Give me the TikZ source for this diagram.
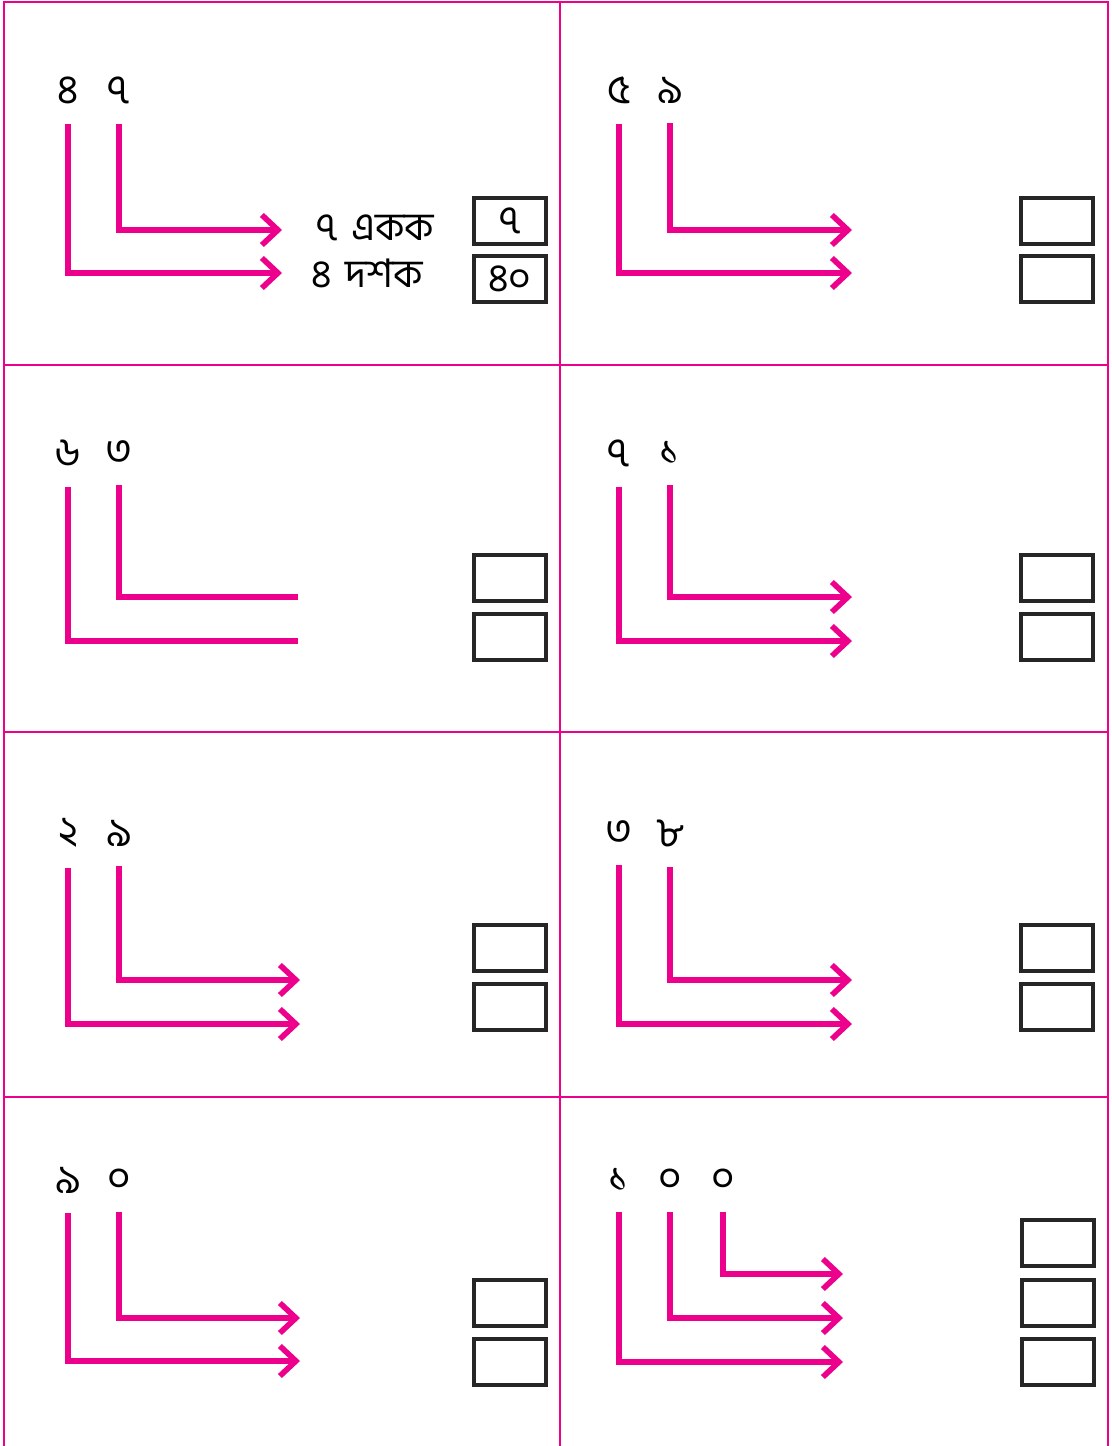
\documentclass[tikz,border=0pt]{standalone}
\usepackage{fontspec}
\newfontfamily\bnfont[Script=Bengali]{Hind Siliguri}
\usetikzlibrary{arrows.meta,positioning}
\definecolor{lmag}{RGB}{236,0,140}

\begin{document}
\begin{tikzpicture}[x=0.025cm, y=-0.025cm,
  digit/.style={inner sep=0pt, font=\bnfont\fontsize{29}{30}\selectfont},
  word/.style={inner sep=0pt, anchor=west, font=\bnfont\fontsize{28}{30}\selectfont},
  conn/.style={draw=lmag, line width=4pt, shorten <=0.5cm},
  arr/.style={conn, -{Straight Barb[length=0.4cm, width=0.75cm]}},
  answer/.style={draw=black!85, line width=2.2pt, minimum width=1.8cm, minimum height=1.15cm, inner sep=0pt, font=\bnfont\fontsize{28}{30}\selectfont},
  gridline/.style={draw=lmag, line width=1.6pt}]
\useasboundingbox (0,0) rectangle (1111,1446);

% grid
\draw[gridline] (4,1446) -- (4,2) -- (1108,2) -- (1108,1446);
\draw[gridline] (560,2) -- (560,1446);
\draw[gridline] (4,365) -- (1108,365);
\draw[gridline] (4,732) -- (1108,732);
\draw[gridline] (4,1097) -- (1108,1097);

% 47
\node[digit] (a1) at (68,90) {৪};
\node[digit] (a2) at (119,90) {৭};
\coordinate (ta1) at (282,230);
\coordinate (ta2) at (282,273);
\draw[arr] (a2.south) |- (ta1);
\draw[arr] (a1.south) |- (ta2);
\node[word] (wa1) at (316,228) {৭\hspace{0.35em}একক};
\node[word] (wa2) at (311,273) {৪\hspace{0.35em}দশক};
\node[answer] (ba1) at (510,221) {৭};
\node[answer] (ba2) at (510,279) {৪০};

% 59
\node[digit] (b1) at (619,90) {৫};
\node[digit] (b2) at (670,90) {৯};
\coordinate (tb1) at (852,230);
\coordinate (tb2) at (852,273);
\draw[arr] (b2.south) |- (tb1);
\draw[arr] (b1.south) |- (tb2);
\node[answer] (bb1) at (1057,221) {};
\node[answer] (bb2) at (1057,279) {};

% 63
\node[digit] (c1) at (68,453) {৬};
\node[digit] (c2) at (119,453) {৩};
\coordinate (tc1) at (298,597);
\coordinate (tc2) at (298,641);
\draw[conn] (c2.south) |- (tc1);
\draw[conn] (c1.south) |- (tc2);
\node[answer] (bc1) at (510,578) {};
\node[answer] (bc2) at (510,637) {};

% 71
\node[digit] (d1) at (619,453) {৭};
\node[digit] (d2) at (670,453) {১};
\coordinate (td1) at (852,597);
\coordinate (td2) at (852,641);
\draw[arr] (d2.south) |- (td1);
\draw[arr] (d1.south) |- (td2);
\node[answer] (bd1) at (1057,578) {};
\node[answer] (bd2) at (1057,637) {};

% 29
\node[digit] (e1) at (68,833) {২};
\node[digit] (e2) at (119,833) {৯};
\coordinate (te1) at (300,980);
\coordinate (te2) at (300,1024);
\draw[arr] (e2.south) |- (te1);
\draw[arr] (e1.south) |- (te2);
\node[answer] (be1) at (510,948) {};
\node[answer] (be2) at (510,1007) {};

% 38
\node[digit] (f1) at (619,833) {৩};
\node[digit] (f2) at (670,833) {৮};
\coordinate (tf1) at (852,980);
\coordinate (tf2) at (852,1024);
\draw[arr] (f2.south) |- (tf1);
\draw[arr] (f1.south) |- (tf2);
\node[answer] (bf1) at (1057,948) {};
\node[answer] (bf2) at (1057,1007) {};

% 90
\node[digit] (g1) at (68,1180) {৯};
\node[digit] (g2) at (119,1180) {০};
\coordinate (tg1) at (300,1318);
\coordinate (tg2) at (300,1361);
\draw[arr] (g2.south) |- (tg1);
\draw[arr] (g1.south) |- (tg2);
\node[answer] (bg1) at (510,1303) {};
\node[answer] (bg2) at (510,1362) {};

% 100
\node[digit] (h1) at (619,1180) {১};
\node[digit] (h2) at (670,1180) {০};
\node[digit] (h3) at (723,1180) {০};
\coordinate (th1) at (843,1274);
\coordinate (th2) at (843,1318);
\coordinate (th3) at (843,1362);
\draw[arr] (h3.south) |- (th1);
\draw[arr] (h2.south) |- (th2);
\draw[arr] (h1.south) |- (th3);
\node[answer] (bh1) at (1058,1243) {};
\node[answer] (bh2) at (1058,1303) {};
\node[answer] (bh3) at (1058,1362) {};
\end{tikzpicture}
\end{document}
